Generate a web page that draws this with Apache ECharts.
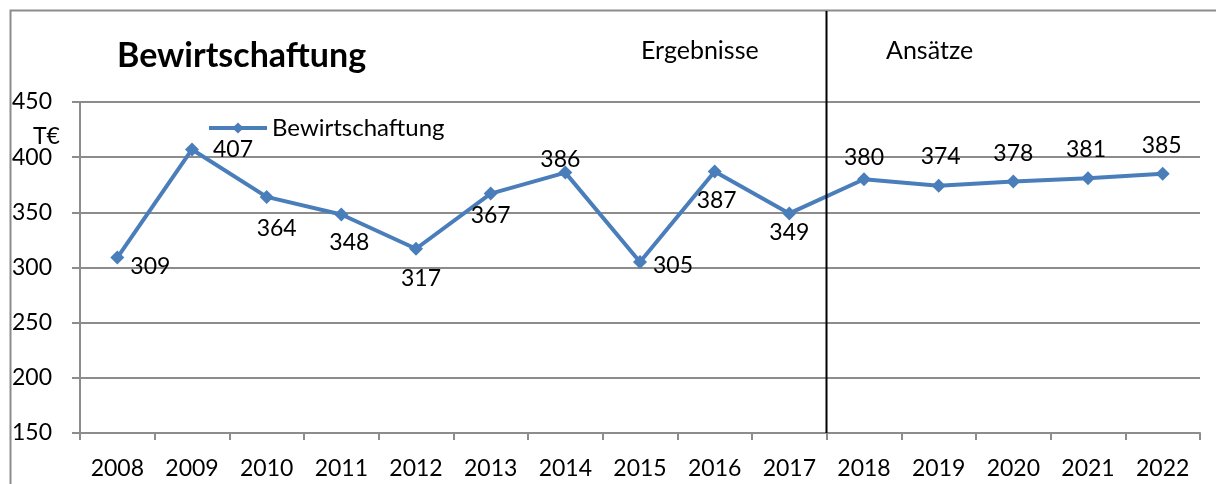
<!DOCTYPE html>
<html>
<head>
<meta charset="utf-8">
<script src="https://cdn.jsdelivr.net/npm/echarts@6/dist/echarts.min.js"></script>
<style>
  html, body { margin: 0; padding: 0; background: #fff; }
  #chart { width: 1216px; height: 484px; }
</style>
</head>
<body>
<div id="chart"></div>
<script>
const years = ['2008', '2009', '2010', '2011', '2012', '2013', '2014', '2015', '2016', '2017', '2018', '2019', '2020', '2021', '2022'];
const values = [309, 407, 364, 348, 317, 367, 386, 305, 387, 349, 380, 374, 378, 381, 385];
// label offsets per point
const labelOffsets = [[33, 9], [41, 0], [10, 32], [8, 28], [5, 30], [0, 22], [-5, -13], [33, 4], [2, 29], [0, 19], [0, -22], [2, -29], [0, -28], [-2, -29], [-1, -28]];

const font = 'Lato, "Open Sans", sans-serif';
const blue = '#4a7ebb';
const gray = '#8c8c8c';

const chart = echarts.init(document.getElementById('chart'));

const option = {
  backgroundColor: '#fff',
  animation: false,
  title: [
    { text: 'Bewirtschaftung', left: 112, top: 34, textStyle: { fontFamily: font, fontSize: 34, fontWeight: 'bold', color: '#000' } },
    { text: 'Ergebnisse', left: 636, top: 33, textStyle: { fontFamily: font, fontSize: 25, fontWeight: 'normal', color: '#000' } },
    { text: 'Ansätze', left: 881, top: 33, textStyle: { fontFamily: font, fontSize: 25, fontWeight: 'normal', color: '#000' } },
    { text: 'T€', left: 28, top: 120, textStyle: { fontFamily: font, fontSize: 23, fontWeight: 'normal', color: '#000' } },
  ],
  legend: {
    left: 202,
    top: 111,
    itemWidth: 58,
    itemHeight: 14,
    itemGap: 4,
    textStyle: { fontFamily: font, fontSize: 24, color: '#000' },
    lineStyle: { width: 4 },
    data: ['Bewirtschaftung'],
  },
  grid: { left: 80, right: 16, top: 102, bottom: 51 },
  xAxis: {
    type: 'category',
    data: years,
    boundaryGap: true,
    axisLine: { lineStyle: { color: gray, width: 2 } },
    axisTick: { show: true, length: 7, lineStyle: { color: gray, width: 2 } },
    axisLabel: { color: '#000', fontFamily: font, fontSize: 23, margin: 24 },
  },
  yAxis: {
    type: 'value',
    min: 150,
    max: 450,
    interval: 50,
    axisLine: { show: true, lineStyle: { color: gray, width: 2 } },
    axisTick: { show: true, length: 8, lineStyle: { color: gray, width: 2 } },
    axisLabel: { color: '#000', fontFamily: font, fontSize: 23, margin: 28 },
    splitLine: { lineStyle: { color: gray, width: 2 } },
  },
  series: [{
    name: 'Bewirtschaftung',
    type: 'line',
    data: values.map((v, i) => ({
      value: v,
      label: { offset: labelOffsets[i] },
    })),
    symbol: 'diamond',
    symbolSize: 14,
    lineStyle: { color: blue, width: 4 },
    itemStyle: { color: blue },
    label: {
      show: true,
      position: 'inside',
      color: '#000',
      fontFamily: font,
      fontSize: 23,
    },
    z: 3,
  }],
};

chart.setOption(option);

// divider between results and plan, border around the chart
const xa = chart.convertToPixel({ xAxisIndex: 0 }, '2017');
const xb = chart.convertToPixel({ xAxisIndex: 0 }, '2018');
const yBottom = chart.convertToPixel({ yAxisIndex: 0 }, 150);
const divX = Math.round((xa + xb) / 2) - 0.5;

chart.setOption({
  graphic: [
    {
      type: 'rect',
      shape: { x: 10.5, y: 10.5, width: 1220, height: 490 },
      style: { fill: 'none', stroke: gray, lineWidth: 2 },
      silent: true,
    },
    {
      type: 'line',
      shape: { x1: divX, y1: 11, x2: divX, y2: yBottom },
      style: { stroke: '#000', lineWidth: 2 },
      z: 10,
      silent: true,
    },
  ],
});
</script>
</body>
</html>
